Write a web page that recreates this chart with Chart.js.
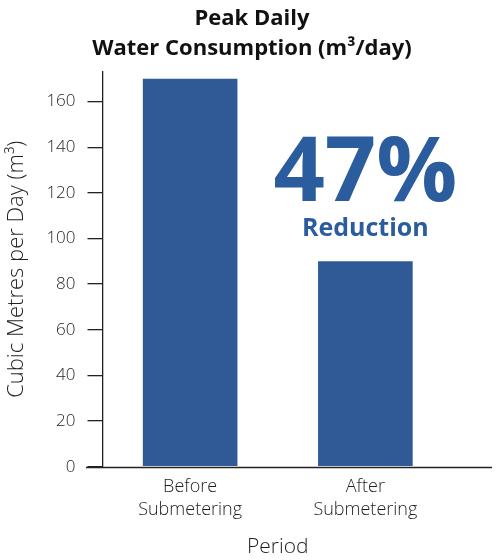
<!DOCTYPE html>
<html>
<head>
<meta charset="utf-8">
<script src="https://cdn.jsdelivr.net/npm/chart.js@4/dist/chart.umd.min.js"></script>
<style>
  html, body { margin: 0; padding: 0; background: #fff; }
  #wrap { width: 500px; height: 560px; }
</style>
</head>
<body>
<div id="wrap"><canvas id="waterChart" width="500" height="560"></canvas></div>
<script>
const periods = [['Before', 'Submetering'], ['After', 'Submetering']];
const peakDaily = [170, 90];
const yTicks = [0, 20, 40, 60, 80, 100, 120, 140, 160];
const reductionLabel = ['47%', 'Reduction'];

const barBlue = '#2f5a96';
const textBlue = '#2b5c9e';
const axisText = '#1f1f1f';
const fontFamily = '"Open Sans", Lato, sans-serif';

// spines: x line runs past the y axis on both sides
const spines = {
    id: 'spines',
    afterDraw(chart) {
        const { ctx, scales: { y } } = chart;
        const y0 = Math.round(y.getPixelForValue(0)) + 0.5;
        ctx.save();
        ctx.strokeStyle = '#222';
        ctx.lineWidth = 1.3;
        ctx.beginPath();
        ctx.moveTo(86, y0);
        ctx.lineTo(492, y0);
        ctx.stroke();
        ctx.restore();
    }
};

const reductionNote = {
    id: 'reductionNote',
    afterDraw(chart) {
        const { ctx, scales: { x, y } } = chart;
        const cx = x.getPixelForValue(1);
        ctx.save();
        ctx.fillStyle = textBlue;
        ctx.textAlign = 'center';
        ctx.textBaseline = 'alphabetic';
        ctx.font = 'bold 90px ' + fontFamily;
        ctx.fillText(reductionLabel[0], cx, y.getPixelForValue(116.5));
        ctx.font = 'bold 25px ' + fontFamily;
        ctx.fillText(reductionLabel[1], cx, y.getPixelForValue(101));
        ctx.restore();
    }
};

const ctx = document.getElementById('waterChart').getContext('2d');
new Chart(ctx, {
    type: 'bar',
    data: {
        labels: periods,
        datasets: [{
            data: peakDaily,
            backgroundColor: barBlue,
            borderWidth: 0,
            barPercentage: 0.54,
            categoryPercentage: 1
        }]
    },
    options: {
        responsive: false,
        animation: false,
        layout: { padding: { left: 4, right: 0, top: 4, bottom: 0 } },
        plugins: {
            legend: { display: false },
            tooltip: { enabled: false },
            title: {
                display: true,
                text: ['Peak Daily', 'Water Consumption (m³/day)'],
                color: '#111',
                font: { family: fontFamily, size: 22, weight: 'bold', lineHeight: 1.36 },
                padding: { top: 0, bottom: 8 }
            }
        },
        scales: {
            x: {
                offset: true,
                grid: { display: false },
                border: { display: false },
                ticks: {
                    color: axisText,
                    font: { family: fontFamily, size: 18, weight: 300, lineHeight: 1.28 },
                    padding: 1
                },
                title: {
                    display: true,
                    text: 'Period',
                    color: axisText,
                    font: { family: fontFamily, size: 21, weight: 300 },
                    padding: { top: 12, bottom: 0 }
                }
            },
            y: {
                min: 0,
                max: 173,
                afterBuildTicks(scale) {
                    scale.ticks = yTicks.map(v => ({ value: v }));
                },
                grid: {
                    drawOnChartArea: false,
                    drawTicks: true,
                    tickLength: 15,
                    color: '#222',
                    lineWidth: 1.3
                },
                border: { display: true, color: '#222', width: 1.3 },
                ticks: {
                    color: axisText,
                    font: { family: fontFamily, size: 17, weight: 300 },
                    padding: 12
                },
                title: {
                    display: true,
                    text: 'Cubic Metres per Day (m³)',
                    color: axisText,
                    font: { family: fontFamily, size: 22, weight: 300 },
                    padding: { top: 0, bottom: 4 }
                }
            },
            // empty right axis, only reserves the blank strip right of the bars
            spacer: {
                axis: 'y',
                position: 'right',
                grid: { display: false },
                border: { display: false },
                ticks: { display: false },
                afterFit(scale) {
                    scale.width = 47;
                }
            }
        }
    },
    plugins: [spines, reductionNote]
});
</script>
</body>
</html>
